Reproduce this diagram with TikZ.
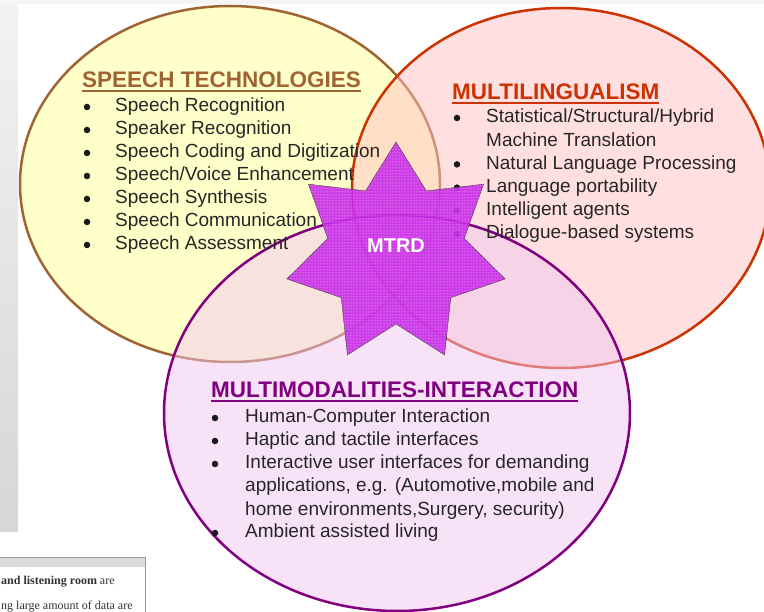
\documentclass[tikz,border=0pt]{standalone}
\usepackage{fontspec}
\setmainfont{Liberation Sans}
\newfontfamily\tabfont{Liberation Serif}
\usetikzlibrary{shapes.geometric,patterns}

\definecolor{spbrown}{RGB}{160,100,50}
\definecolor{mlred}{RGB}{204,51,0}
\definecolor{mmpurple}{RGB}{128,0,128}
\definecolor{spfill}{RGB}{255,255,150}
\definecolor{mlfill}{RGB}{255,192,192}
\definecolor{mmfill}{RGB}{240,198,240}
\definecolor{starmag}{RGB}{204,40,236}

\tikzset{
  circ/.style={line width=2.5pt, fill opacity=.5},
  head/.style={anchor=base west, inner sep=0pt, font=\fontsize{22.5}{27}\selectfont\bfseries},
  item/.style={anchor=base west, inner sep=0pt, text=black!85, font=\fontsize{19}{23}\selectfont},
  dot/.style={circle, fill=black!90, inner sep=0pt, minimum size=6.5pt},
  tabtext/.style={anchor=base west, inner sep=0pt, text=black!80, font=\tabfont\fontsize{12}{14}\selectfont},
}

\begin{document}
\begin{tikzpicture}[x=1pt,y=-1pt]
\useasboundingbox (0,0) rectangle (764,612);
\clip (0,0) rectangle (764,612);
% edges of the screenshot
\fill[gray!8] (0,0) rectangle (764,4);
\shade[top color=gray!10, bottom color=gray!32] (0,4) rectangle (18,532);
\draw[gray!80, fill=white] (-2,557) rectangle (145,620);
\fill[gray!28] (-1,558) rectangle (144.5,567);
\node[tabtext] (tab1) at (1,584) {\textbf{and listening room} are};
\node[tabtext] (tab2) at (1,609) {ng large amount of data are};

% the three sets
\coordinate (spc) at (230,184);
\coordinate (mlc) at (561,188);
\coordinate (mmc) at (397,413);
\filldraw[circ, draw=spbrown, fill=spfill] (spc) ellipse [x radius=210, y radius=178];
\filldraw[circ, draw=mlred, fill=mlfill] (mlc) ellipse [x radius=209, y radius=180];
\filldraw[circ, draw=mmpurple, fill=mmfill] (mmc) ellipse [x radius=233, y radius=198];

% speech technologies
\node[head, text=spbrown] (sphead) at (82,88) {SPEECH TECHNOLOGIES};
\draw[spbrown, line width=1.5pt] ([yshift=-3pt]sphead.base west) -- ([yshift=-3pt]sphead.base east);
\foreach \txt [count=\i from 0] in {Speech Recognition, Speaker Recognition,
    Speech Coding and Digitization, Speech/Voice Enhancement, Speech Synthesis,
    Speech Communication, Speech Assessment}{
  \node[dot] (spdot\i) at (87,107+23*\i) {};
  \node[item] (spitem\i) at (115,112+23*\i) {\txt};
}

% multilingualism
\node[head, text=mlred] (mlhead) at (452,100) {MULTILINGUALISM};
\draw[mlred, line width=1.5pt] ([yshift=-3pt]mlhead.base west) -- ([yshift=-3pt]mlhead.base east);
\foreach \txt [count=\i from 0] in {Statistical/Structural/Hybrid, Machine Translation,
    Natural Language Processing, Language portability, Intelligent agents,
    Dialogue-based systems}{
  \node[item] (mlitem\i) at (486,123+23.2*\i) {\txt};
}
\foreach \i in {0,2,3,4,5}
  \node[dot] (mldot\i) at (457,118+23.2*\i) {};

% multimodalities
\node[head, text=mmpurple] (mmhead) at (211,398) {MULTIMODALITIES-INTERACTION};
\draw[mmpurple, line width=1.5pt] ([yshift=-3pt]mmhead.base west) -- ([yshift=-3pt]mmhead.base east);
\foreach \txt [count=\i from 0] in {Human-Computer Interaction, Haptic and tactile interfaces,
    Interactive user interfaces for demanding, {applications, e.g. (Automotive,mobile and},
    {home environments,Surgery, security)}, Ambient assisted living}{
  \node[item] (mmitem\i) at (245,423+23*\i) {\txt};
}
\foreach \i in {0,1,2,5}
  \node[dot] (mmdot\i) at (215,418+23*\i) {};

% centre
\node[star, star points=7, star point ratio=1.6, minimum size=224pt, inner sep=0pt,
  draw=black!75, thin, fill=starmag, fill opacity=.9,
  postaction={pattern=dots, pattern color=white!80!green}] (star) at (396,254) {};
\node[text=white, font=\fontsize{20}{24}\selectfont\bfseries] (mtrd) at (396,246) {MTRD};
\end{tikzpicture}
\end{document}
